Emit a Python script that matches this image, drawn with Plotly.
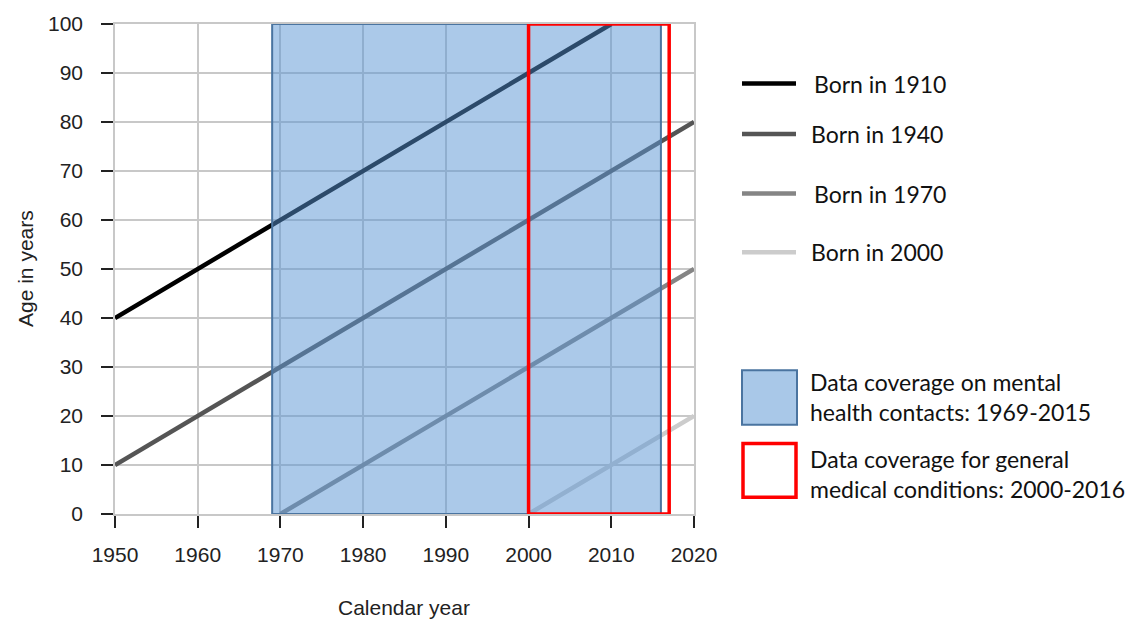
import plotly.graph_objects as go

# Data
birth_years = [1910, 1940, 1970, 2000]
cohort_labels = ["Born in 1910", "Born in 1940", "Born in 1970", "Born in 2000"]
start_years = [1950, 1950, 1970, 2000]
end_years = [2010, 2020, 2020, 2020]
line_colors = ["#000000", "#555555", "#858585", "#cccccc"]

mental_cov = [1969, 2016]
general_cov = [2000, 2017]
age_range = [0, 100]
x_ticks = [1950, 1960, 1970, 1980, 1990, 2000, 2010, 2020]
y_ticks = [0, 10, 20, 30, 40, 50, 60, 70, 80, 90, 100]

W, H = 1137, 621
L, R, T, B = 115, 694, 20, 514

def px(x):
    return (x - L) / (R - L)

def py(y):
    return (B - y) / (B - T)

fig = go.Figure()
for by, lab, s, e, c in zip(birth_years, cohort_labels, start_years, end_years, line_colors):
    xs = [s, e]
    ys = [s - by, e - by]
    fig.add_trace(go.Scatter(x=xs, y=ys, mode="lines", line=dict(color=c, width=4.5),
                             name=lab, showlegend=False, hoverinfo="skip"))

# coverage rectangles
fig.add_shape(type="rect", xref="x", yref="y", x0=mental_cov[0], x1=mental_cov[1],
              y0=age_range[0], y1=age_range[1], layer="above",
              fillcolor="rgba(88,148,212,0.5)", line=dict(color="#4a74a0", width=2))
fig.add_shape(type="rect", xref="x", yref="y", x0=general_cov[0], x1=general_cov[1],
              y0=age_range[0], y1=age_range[1], layer="above",
              fillcolor="rgba(0,0,0,0)", line=dict(color="#ff0000", width=3.5))

legend_font = dict(family="Lato", size=23, color="#111111")
# line legend
leg_y = [80, 131, 191, 250]
leg_tx = [812, 809, 812, 809]
for lab, c, yy, tx in zip(cohort_labels, line_colors, leg_y, leg_tx):
    fig.add_shape(type="line", xref="paper", yref="paper", x0=px(742), x1=px(796),
                  y0=py(yy), y1=py(yy), line=dict(color=c, width=4.5))
    fig.add_annotation(xref="paper", yref="paper", x=px(tx), y=py(yy), text=lab,
                       showarrow=False, xanchor="left", yanchor="middle", font=legend_font)

# box legend
fig.add_shape(type="rect", xref="paper", yref="paper", x0=px(742), x1=px(797),
              y0=py(424), y1=py(369), fillcolor="#a9c8e8", line=dict(color="#4a74a0", width=2))
fig.add_shape(type="rect", xref="paper", yref="paper", x0=px(743), x1=px(796),
              y0=py(497), y1=py(443), fillcolor="white", line=dict(color="#ff0000", width=3.5))
box_texts = ["Data coverage on mental<br>health contacts: 1969-2015",
             "Data coverage for general<br>medical conditions: 2000-2016"]
for txt, yy in zip(box_texts, [396, 474]):
    fig.add_annotation(xref="paper", yref="paper", x=px(808), y=py(yy), text=txt,
                       showarrow=False, xanchor="left", yanchor="middle", align="left",
                       font=legend_font)

# axis titles
fig.add_annotation(xref="paper", yref="paper", x=px(404), y=py(608), text="Calendar year",
                   showarrow=False, xanchor="center", yanchor="middle",
                   font=dict(family="Liberation Sans", size=21, color="#222222"))
fig.add_annotation(xref="paper", yref="paper", x=px(25), y=py(267), text="Age in years",
                   showarrow=False, textangle=-90, xanchor="center", yanchor="middle",
                   font=dict(family="Liberation Sans", size=21, color="#222222"))

axis_font = dict(family="Liberation Sans", size=21, color="#222222")
fig.update_xaxes(range=[1950, 2020], tickvals=x_ticks, ticks="outside", ticklen=12,
                 tickcolor="#222222", tickwidth=1.5, showgrid=True, gridcolor="#c8c8c8",
                 gridwidth=1.5, zeroline=False, showline=True, linecolor="#c8c8c8",
                 linewidth=1.5, mirror=True, tickfont=axis_font, ticklabelstandoff=9)
fig.update_yaxes(range=[0, 100], tickvals=y_ticks, ticks="outside", ticklen=12,
                 tickcolor="#222222", tickwidth=1.5, showgrid=True, gridcolor="#c8c8c8",
                 gridwidth=1.5, zeroline=False, showline=True, linecolor="#c8c8c8",
                 linewidth=1.5, mirror=True, tickfont=axis_font, ticklabelstandoff=14)

fig.update_layout(width=W, height=H, margin=dict(l=L, r=W - R, t=T, b=H - B),
                  plot_bgcolor="white", paper_bgcolor="white", showlegend=False)

fig.write_html("out.html", config={"displayModeBar": False},
               post_script="document.body.style.margin='0';document.body.style.padding='0';"
                           "document.documentElement.style.overflow='hidden';")
